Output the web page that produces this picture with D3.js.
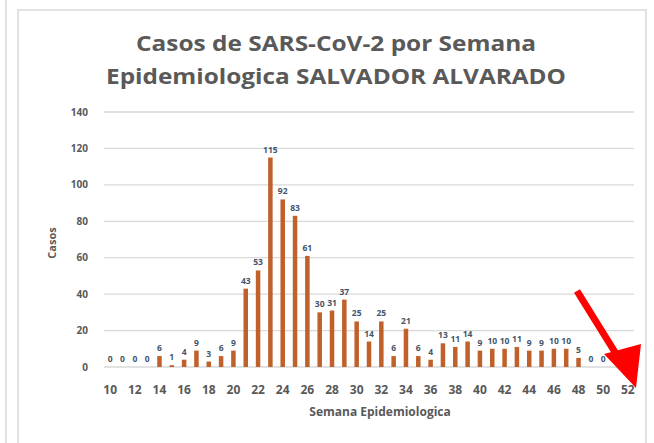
<!DOCTYPE html>
<html>
<head>
<meta charset="utf-8">
<script src="https://cdn.jsdelivr.net/npm/d3@7"></script>
<style>
  body { margin: 0; background: #fff; }
  svg { display: block; font-family: "Open Sans", "Liberation Sans", sans-serif; }
</style>
</head>
<body>
<div id="chart"></div>
<script>
// Semanas epidemiologicas 10..52 (51 y 52 sin datos)
const weeks = d3.range(10, 53);
const casos = [
  0, 0, 0, 0, 6, 1, 4, 9, 3, 6,
  9, 43, 53, 115, 92, 83, 61, 30, 31, 37,
  25, 14, 25, 6, 21, 6, 4, 13, 11, 14,
  9, 10, 10, 11, 9, 9, 10, 10, 5, 0,
  0, null, null
];
const yTicks = [0, 20, 40, 60, 80, 100, 120, 140];
const xTickLabels = d3.range(10, 53, 2);

const width = 654, height = 443;
const margin = { top: 112, right: 20, bottom: 76, left: 104 };

const svg = d3.select("#chart").append("svg")
  .attr("width", width)
  .attr("height", height);

// frame lines
svg.append("line").attr("x1", 6).attr("x2", 6).attr("y1", 0).attr("y2", height)
  .attr("stroke", "#d9d9d9").attr("stroke-width", 1.5);
svg.append("rect").attr("x", 18).attr("y", 10).attr("width", 628).attr("height", 440)
  .attr("fill", "none").attr("stroke", "#d9d9d9").attr("stroke-width", 1.5);

const x = d3.scaleBand()
  .domain(weeks)
  .range([margin.left, 634]);

const y = d3.scaleLinear()
  .domain([0, 140])
  .range([367, margin.top]);

// gridlines
svg.append("g")
  .selectAll("line")
  .data(yTicks)
  .enter()
  .append("line")
  .attr("x1", margin.left)
  .attr("x2", 634)
  .attr("y1", (d) => y(d))
  .attr("y2", (d) => y(d))
  .attr("stroke", "#d9d9d9")
  .attr("stroke-width", 1.3);

// y tick labels
svg.append("g")
  .selectAll("text")
  .data(yTicks)
  .enter()
  .append("text")
  .attr("x", 88)
  .attr("y", (d) => y(d))
  .attr("dy", "0.35em")
  .attr("text-anchor", "end")
  .attr("fill", "#595959")
  .style("font-size", "10px")
  .style("font-weight", "bold")
  .text((d) => d);

// x tick labels
svg.append("g")
  .selectAll("text")
  .data(xTickLabels)
  .enter()
  .append("text")
  .attr("x", (d) => x(d) + x.bandwidth() / 2)
  .attr("y", 390)
  .attr("dy", "0.35em")
  .attr("text-anchor", "middle")
  .attr("fill", "#595959")
  .style("font-size", "12px")
  .style("font-weight", "bold")
  .text((d) => d);

const data = weeks.map((w, i) => ({ week: w, value: casos[i] }))
  .filter((d) => d.value !== null);

// bars
const barW = 4.5;
svg.append("g")
  .selectAll("rect")
  .data(data)
  .enter()
  .append("rect")
  .attr("x", (d) => x(d.week) + x.bandwidth() / 2 - barW / 2)
  .attr("y", (d) => y(d.value))
  .attr("width", barW)
  .attr("height", (d) => y(0) - y(d.value))
  .attr("fill", "#c0612b");

// data labels
svg.append("g")
  .selectAll("text")
  .data(data)
  .enter()
  .append("text")
  .attr("x", (d) => x(d.week) + x.bandwidth() / 2)
  .attr("y", (d) => y(d.value) - 5)
  .attr("text-anchor", "middle")
  .attr("fill", "#44546a")
  .style("font-size", "8.5px")
  .style("font-weight", "bold")
  .text((d) => d.value);

// titles
const title = svg.append("text")
  .attr("x", 336)
  .attr("text-anchor", "middle")
  .attr("fill", "#595959")
  .style("font-size", "22px")
  .style("font-weight", "bold");
title.append("tspan").attr("x", 336).attr("y", 51)
  .attr("textLength", 400).attr("lengthAdjust", "spacingAndGlyphs")
  .text("Casos de SARS-CoV-2 por Semana");
title.append("tspan").attr("x", 336).attr("y", 84)
  .attr("textLength", 460).attr("lengthAdjust", "spacingAndGlyphs")
  .text("Epidemiologica SALVADOR ALVARADO");

svg.append("text")
  .attr("transform", "translate(56,243) rotate(-90)")
  .attr("text-anchor", "middle")
  .attr("fill", "#595959")
  .style("font-size", "11px")
  .style("font-weight", "bold")
  .text("Casos");

svg.append("text")
  .attr("x", 380)
  .attr("y", 416)
  .attr("text-anchor", "middle")
  .attr("fill", "#595959")
  .style("font-size", "12px")
  .style("font-weight", "bold")
  .text("Semana Epidemiologica");

// red arrow annotation
svg.append("line")
  .attr("x1", 577).attr("y1", 291)
  .attr("x2", 618).attr("y2", 357)
  .attr("stroke", "#ff0000")
  .attr("stroke-width", 7);
svg.append("polygon")
  .attr("points", "604,354 641,344 636,388")
  .attr("fill", "#ff0000");
</script>
</body>
</html>
